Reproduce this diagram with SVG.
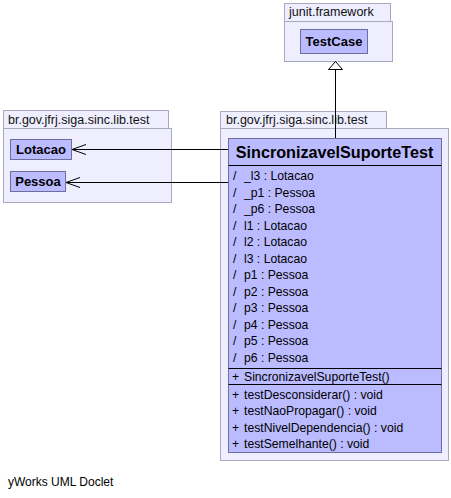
<svg xmlns="http://www.w3.org/2000/svg" width="451" height="498" viewBox="0 0 451 498">
<style>
.pkg{fill:#eeeeff;stroke:#a8a8c0;stroke-width:1}
.cls{fill:#bbbbff;stroke:#6e6e9e;stroke-width:1}
.pl{font-family:"Liberation Sans",Arial,sans-serif;font-size:12.5px;fill:#111}
.cn{font-family:"Liberation Sans",Arial,sans-serif;font-size:13px;font-weight:bold;fill:#000}
.big{font-size:16.2px}
.m{font-family:"Liberation Sans",Arial,sans-serif;font-size:12.2px;fill:#000}
.sep{stroke:#000;stroke-width:1}
.edge{stroke:#000;stroke-width:1;fill:none}
</style>
<rect width="451" height="498" fill="#fff"/>
<g id="pkg-junit">
<rect class="pkg" x="284.5" y="3.5" width="106" height="18"/>
<rect class="pkg" x="284.5" y="21.5" width="108" height="40"/>
<text class="pl" x="289" y="16">junit.framework</text>
</g>
<g id="TestCase">
<rect class="cls" x="300.5" y="29.5" width="67" height="24"/>
<text class="cn" x="334" y="46" text-anchor="middle">TestCase</text>
</g>
<g id="pkg-left">
<rect class="pkg" x="3.5" y="110.5" width="165" height="18"/>
<rect class="pkg" x="3.5" y="128.5" width="168" height="74"/>
<text class="pl" x="8" y="124">br.gov.jfrj.siga.sinc.lib.test</text>
</g>
<g id="Lotacao">
<rect class="cls" x="10.5" y="139.5" width="61" height="20"/>
<text class="cn" x="41" y="154" text-anchor="middle">Lotacao</text>
</g>
<g id="Pessoa">
<rect class="cls" x="10.5" y="171.5" width="55" height="20"/>
<text class="cn" x="38" y="186" text-anchor="middle">Pessoa</text>
</g>
<g id="pkg-right">
<rect class="pkg" x="220.5" y="111.5" width="166" height="17"/>
<rect class="pkg" x="220.5" y="128.5" width="228" height="332"/>
<text class="pl" x="226" y="124">br.gov.jfrj.siga.sinc.lib.test</text>
</g>
<g id="SincronizavelSuporteTest">
<rect class="cls" x="228.5" y="138.5" width="213" height="314"/>
<text class="cn big" x="334.5" y="158" text-anchor="middle">SincronizavelSuporteTest</text>
<line class="sep" x1="228.5" y1="165.5" x2="441.5" y2="165.5"/>
<g class="m">
<text x="233" y="180">/</text><text x="244" y="180">_l3 : Lotacao</text>
<text x="233" y="197">/</text><text x="244" y="197">_p1 : Pessoa</text>
<text x="233" y="213">/</text><text x="244" y="213">_p6 : Pessoa</text>
<text x="233" y="230">/</text><text x="244" y="230">l1 : Lotacao</text>
<text x="233" y="246">/</text><text x="244" y="246">l2 : Lotacao</text>
<text x="233" y="263">/</text><text x="244" y="263">l3 : Lotacao</text>
<text x="233" y="279">/</text><text x="244" y="279">p1 : Pessoa</text>
<text x="233" y="296">/</text><text x="244" y="296">p2 : Pessoa</text>
<text x="233" y="312">/</text><text x="244" y="312">p3 : Pessoa</text>
<text x="233" y="329">/</text><text x="244" y="329">p4 : Pessoa</text>
<text x="233" y="345">/</text><text x="244" y="345">p5 : Pessoa</text>
<text x="233" y="362">/</text><text x="244" y="362">p6 : Pessoa</text>
</g>
<line class="sep" x1="228.5" y1="368.5" x2="441.5" y2="368.5"/>
<g class="m">
<text x="232" y="381">+</text><text x="244" y="381">SincronizavelSuporteTest()</text>
</g>
<line class="sep" x1="228.5" y1="384.5" x2="441.5" y2="384.5"/>
<g class="m">
<text x="232" y="399">+</text><text x="244" y="399">testDesconsiderar() : void</text>
<text x="232" y="415">+</text><text x="244" y="415">testNaoPropagar() : void</text>
<text x="232" y="432">+</text><text x="244" y="432">testNivelDependencia() : void</text>
<text x="232" y="448">+</text><text x="244" y="448">testSemelhante() : void</text>
</g>
</g>
<g id="connectors">
<line class="edge" x1="335.5" y1="69" x2="335.5" y2="138"/>
<polygon points="335.5,61.5 328.5,69.5 342.5,69.5" fill="#fff" stroke="#000" stroke-width="1"/>
<line class="edge" x1="72" y1="149.5" x2="228" y2="149.5"/>
<polyline class="edge" points="86,144.5 72,149.5 86,154.5"/>
<line class="edge" x1="66" y1="182.5" x2="228" y2="182.5"/>
<polyline class="edge" points="80,177.5 66,182.5 80,187.5"/>
</g>
<text class="pl" x="8" y="486" style="fill:#000;font-size:12px">yWorks UML Doclet</text>
</svg>
